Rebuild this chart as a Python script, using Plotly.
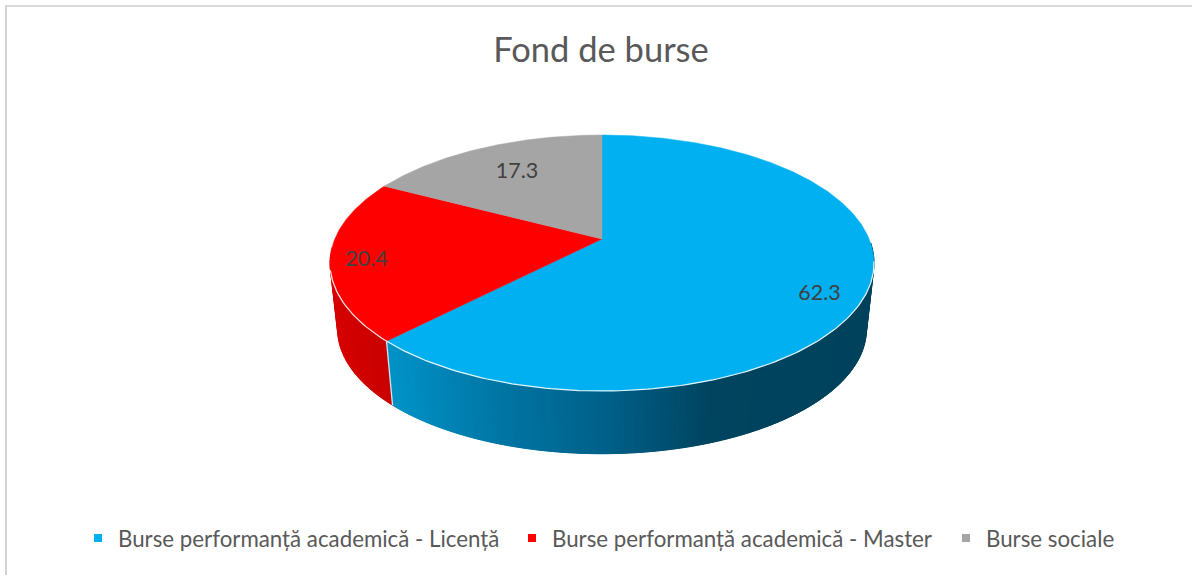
import math
import plotly.graph_objects as go

CATEGORIES = ["Burse performanță academică - Licență",
              "Burse performanță academică - Master",
              "Burse sociale"]
VALUES = [62.3, 20.4, 17.3]
COLORS = ["#00B0F0", "#FF0000", "#A5A5A5"]
TITLE = "Fond de burse"

# geometry of the tilted pie (axis units are pixels)
CX, APEX_Y = 602.0, 239.0
SX, SY, PERSP = 267.2, 123.5, 0.1875
BOTTOM_SCALE, BOTTOM_DROP = 0.972, 67.0
LABEL_R = [0.82, 0.87, 0.70]
LABEL_DX = [2, 0, 2]
LABEL_DY = [15, 4, 0]
LEGEND_X = [78, 512, 946]


def top(theta_deg, r=1.0):
    t = math.radians(theta_deg)
    u, v = r * math.sin(t), r * math.cos(t)
    w = 1 + PERSP * v
    return CX + SX * u / w, APEX_Y - SY * v / w


def bottom(theta_deg):
    x, y = top(theta_deg)
    return CX + (x - CX) * BOTTOM_SCALE, APEX_Y + BOTTOM_DROP + (y - APEX_Y) * BOTTOM_SCALE


def lerp_color(stops, x):
    if x <= stops[0][0]:
        return stops[0][1]
    for (x0, c0), (x1, c1) in zip(stops, stops[1:]):
        if x <= x1:
            f = (x - x0) / (x1 - x0)
            return tuple(c0[i] + (c1[i] - c0[i]) * f for i in range(3))
    return stops[-1][1]


def rgb(c):
    return "rgb(%d,%d,%d)" % tuple(round(i) for i in c)


BLUE_SIDE = [(392, (0, 146, 198)), (500, (0, 118, 165)), (610, (0, 96, 136)),
             (715, (0, 68, 95)), (880, (0, 66, 92))]
RED_SIDE = [(335, (214, 0, 0)), (392, (200, 0, 0))]

total = sum(VALUES)
edges = [0.0]
for val in VALUES:
    edges.append(edges[-1] + val / total * 360)

fig = go.Figure()

# side wall: overlapping strips painted left to right so no seams show through
quads = []
a = 92.0
while a < edges[1]:
    b = min(a + 1.0, edges[1])
    quads.append((max(92.0, a - 3.0), b, BLUE_SIDE, a))
    a = b
a = edges[1]
while a < 265:
    b = a + 1.5
    quads.append((a - 3.0 if a > edges[1] else a, b, RED_SIDE, a))
    a = b
quads.sort(key=lambda q: top(q[3])[0] if q[2] is BLUE_SIDE else -1e4 - q[3])
for a, b, stops, key in quads:
    arc = [a + (b - a) * k / 4 for k in range(5)]
    p = [top(t) for t in arc] + [bottom(t) for t in reversed(arc)]
    p.append(p[0])
    col = rgb(lerp_color(stops, top(key)[0]))
    fig.add_trace(go.Scatter(x=[q[0] for q in p], y=[q[1] for q in p], mode="lines",
                             fill="toself", fillcolor=col, line=dict(color=col, width=0.4),
                             hoverinfo="skip", showlegend=False))

# seam between the two visible wall colours
s0, s1 = top(edges[1]), bottom(edges[1])
fig.add_trace(go.Scatter(x=[s0[0], s1[0]], y=[s0[1], s1[1]], mode="lines",
                         line=dict(color="rgba(235,240,245,0.9)", width=1.3),
                         hoverinfo="skip", showlegend=False))

# top wedges
for i, (name, val, col) in enumerate(zip(CATEGORIES, VALUES, COLORS)):
    a0, a1 = edges[i], edges[i + 1]
    n = max(2, int(a1 - a0) * 2)
    pts = [(CX, APEX_Y)] + [top(a0 + (a1 - a0) * k / n) for k in range(n + 1)] + [(CX, APEX_Y)]
    fig.add_trace(go.Scatter(x=[q[0] for q in pts], y=[q[1] for q in pts], mode="lines",
                             fill="toself", fillcolor=col, line=dict(color=col, width=0.5),
                             name=name, text=f"{name}: {val}", hoverinfo="text", showlegend=False))

# light rim on the front edge of the top face
rim = [top(100 + k) for k in range(0, 157)]
fig.add_trace(go.Scatter(x=[q[0] for q in rim], y=[q[1] for q in rim], mode="lines",
                         line=dict(color="rgba(255,255,255,0.9)", width=1.2),
                         hoverinfo="skip", showlegend=False))

# value labels
for i, val in enumerate(VALUES):
    lx, ly = top((edges[i] + edges[i + 1]) / 2, LABEL_R[i])
    fig.add_trace(go.Scatter(x=[lx + LABEL_DX[i]], y=[ly + LABEL_DY[i]], mode="text", text=[str(val)],
                             textposition="middle center",
                             textfont=dict(family="Lato", size=21.5, color="#404040"),
                             hoverinfo="skip", showlegend=False))

W, H = 1192, 575

# legend entries: one legend box per entry so each can sit where the reference has it
legend_layout = {}
for i, (name, col) in enumerate(zip(CATEGORIES, COLORS)):
    key = "legend" if i == 0 else f"legend{i + 1}"
    fig.add_trace(go.Scatter(x=[None], y=[None], mode="markers", name=name, legend=key,
                             showlegend=True,
                             marker=dict(symbol="square", size=8, color=col)))
    legend_layout[key] = dict(orientation="h", x=LEGEND_X[i] / W, xanchor="left",
                              y=1 - 538 / H, yanchor="middle", bgcolor="rgba(0,0,0,0)",
                              font=dict(family="Lato", size=22.3, color="#595959"))

fig.update_layout(
    width=W, height=H, autosize=False,
    margin=dict(l=0, r=0, t=0, b=0),
    paper_bgcolor="white", plot_bgcolor="white",
    title=dict(text=TITLE, x=601 / W, xanchor="center", y=1 - 50 / H, yanchor="middle",
               font=dict(family="Lato", size=34.5, color="#595959")),
    xaxis=dict(range=[0, W], visible=False, fixedrange=True),
    yaxis=dict(range=[H, 0], visible=False, fixedrange=True),
    shapes=[
        dict(type="line", xref="paper", yref="paper", x0=6 / W, x1=1, y0=1 - 6 / H, y1=1 - 6 / H,
             line=dict(color="#D9D9D9", width=2)),
        dict(type="line", xref="paper", yref="paper", x0=6 / W, x1=6 / W, y0=0, y1=1 - 5 / H,
             line=dict(color="#D4D4D4", width=2)),
    ],
    **legend_layout,
)

fig.write_html("out.html", config={"displayModeBar": False},
               post_script="document.body.style.margin='0';document.documentElement.style.overflow='hidden';")
